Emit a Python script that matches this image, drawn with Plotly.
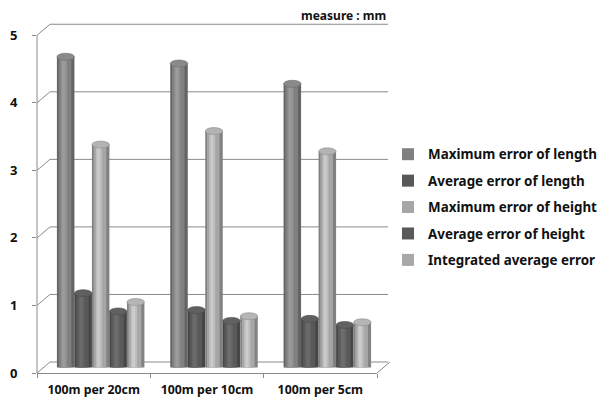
import plotly.graph_objects as go

# Measurement error per survey interval (unit: mm)
categories = ["100m per 20cm", "100m per 10cm", "100m per 5cm"]
series_names = [
    "Maximum error of length",
    "Average error of length",
    "Maximum error of height",
    "Average error of height",
    "Integrated average error",
]
max_len = [4.6, 4.5, 4.2]
avg_len = [1.1, 0.85, 0.72]
max_hgt = [3.3, 3.5, 3.2]
avg_hgt = [0.83, 0.69, 0.63]
integ = [0.97, 0.76, 0.67]
series_values = [max_len, avg_len, max_hgt, avg_hgt, integ]
y_ticks = [0, 1, 2, 3, 4, 5]

# grayscale base colours (r=g=b) per series
base_gray = [128, 88, 166, 90, 168]

FONT = "Noto Sans"
W, H = 608, 399
ML, MR, MT, MB = 37, 231, 15, 26
PW = W - ML - MR            # plot width in px (front plane)
PH = H - MT - MB            # plot height in px
YMAX = 5.3
PX_PER_UNIT_X = PW / len(categories)
PX_PER_UNIT_Y = PH / YMAX

DEPTH_X, DEPTH_Y = 13, 11   # back-wall offset of the pseudo-3D frame
BAR_W_PX = 17.5
bar_w = BAR_W_PX / PX_PER_UNIT_X
shift_x = 7 / PX_PER_UNIT_X            # bars sit mid-depth
base_y = 5.5 / PX_PER_UNIT_Y
group_w = bar_w * len(series_names)


def g(v):
    v = max(0, min(255, int(round(v))))
    return f"rgb({v},{v},{v})"


fig = go.Figure()
shapes = []

# cylinder look: a dark full-width body, a mid-tone core and a light highlight
layers = [(1.0, 0.78, 0.0, False), (0.72, 1.0, -0.04, True), (0.34, 1.14, -0.10, False), (0.14, 1.22, -0.12, False)]
for i, (name, vals) in enumerate(zip(series_names, series_values)):
    left = shift_x - group_w / 2 + i * bar_w
    for frac, k, dx, show in layers:
        w = bar_w * frac
        off = left + (bar_w - w) / 2 + dx * bar_w
        fig.add_trace(go.Bar(
            x=categories, y=vals, base=base_y,
            name=name, legendgroup=name, showlegend=show,
            width=w, offset=off,
            marker=dict(color=g(base_gray[i] * k), line=dict(width=0)),
            hoverinfo="skip" if not show else None,
        ))
    # elliptical cap on top of each cylinder
    for j, v in enumerate(vals):
        shapes.append(dict(type="circle", xref="x", yref="y", ysizemode="pixel",
                           yanchor=v + base_y, y0=-3.5, y1=3.5,
                           x0=j + left, x1=j + left + bar_w,
                           fillcolor=g(base_gray[i] * 1.08),
                           line=dict(color=g(base_gray[i] * 0.85), width=0.6),
                           layer="above"))

line_col = "#8a8a8a"
dx_dom = DEPTH_X / PW
# back-wall gridlines and their diagonal links to the front axis
for v in y_ticks:
    shapes.append(dict(type="line", xref="x domain", yref="y", ysizemode="pixel", yanchor=v,
                       x0=dx_dom, x1=(388 - ML) / PW, y0=DEPTH_Y, y1=DEPTH_Y,
                       line=dict(color=line_col, width=1), layer="below"))
    shapes.append(dict(type="line", xref="x domain", yref="y", ysizemode="pixel", yanchor=v,
                       x0=0, x1=dx_dom, y0=0, y1=DEPTH_Y,
                       line=dict(color=line_col, width=1), layer="below"))
# right edge of the floor
shapes.append(dict(type="line", xref="x domain", yref="y", ysizemode="pixel", yanchor=0,
                   x0=1, x1=1 + dx_dom, y0=0, y1=DEPTH_Y,
                   line=dict(color=line_col, width=1), layer="below"))
# front vertical axis
shapes.append(dict(type="line", xref="x domain", yref="y", x0=0, x1=0, y0=0, y1=5,
                   line=dict(color=line_col, width=1)))

fig.update_layout(
    width=W, height=H,
    margin=dict(l=ML, r=MR, t=MT, b=MB, autoexpand=False),
    paper_bgcolor="white", plot_bgcolor="white",
    barmode="overlay",
    shapes=shapes,
    showlegend=True,
    legend=dict(
        x=(388 - ML) / PW, xanchor="left", y=(H - MB - 207.5) / PH, yanchor="middle",
        traceorder="grouped", tracegroupgap=6,
        font=dict(family=FONT, size=13.4, color="#111", weight="bold"),
        bgcolor="rgba(0,0,0,0)", itemwidth=30,
    ),
    font=dict(family=FONT, color="#111"),
    annotations=[dict(
        text="<b>measure : mm</b>", xref="paper", yref="paper",
        x=(388 - ML) / PW, y=1.0, xanchor="right", yanchor="middle", yshift=0,
        showarrow=False, font=dict(family=FONT, size=12, color="#111"),
    )],
)
fig.update_xaxes(
    type="category", categoryorder="array", categoryarray=categories,
    showline=True, linecolor=line_col, linewidth=1, showgrid=False,
    ticks="outside", tickson="boundaries", ticklen=4, tickcolor=line_col,
    tickfont=dict(family=FONT, size=12.3, color="#111", weight="bold"),
    ticklabelstandoff=5, automargin=False,
    range=[-0.5, 2.5], fixedrange=True,
)
fig.update_yaxes(
    range=[0, YMAX], tickvals=y_ticks, showgrid=False, zeroline=False, showline=False,
    ticks="outside", ticklen=4, tickcolor=line_col,
    tickfont=dict(family=FONT, size=13, color="#111", weight="bold"),
    ticklabelstandoff=12, automargin=False, fixedrange=True,
)

fig.write_html("out.html")
